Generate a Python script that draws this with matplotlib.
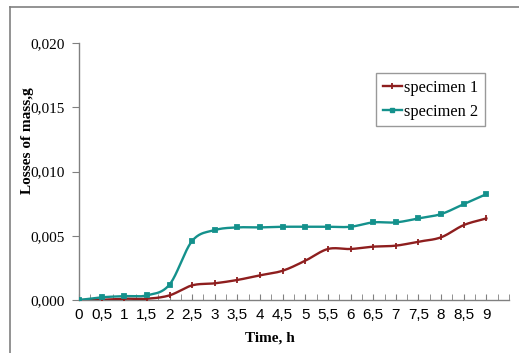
import numpy as np
import matplotlib
matplotlib.use("Agg")
import matplotlib.pyplot as plt
from matplotlib.lines import Line2D
from matplotlib.ticker import FixedLocator, MultipleLocator

# Sampling times (h) and mass losses (g)
time_h = [0, 0.5, 1, 1.5, 2, 2.5, 3, 3.5, 4, 4.5, 5, 5.5, 6, 6.5, 7, 7.5, 8, 8.5, 9]
specimen_1 = [0.0, 0.00002, 0.0001, 0.0001, 0.00036, 0.00114, 0.0013, 0.00156,
              0.00192, 0.00228, 0.00306, 0.00397, 0.00397, 0.00415, 0.00423,
              0.00454, 0.00488, 0.00583, 0.00635]
specimen_2 = [0.0, 0.00021, 0.0003, 0.00036, 0.0012, 0.0046, 0.00544, 0.00565,
              0.00565, 0.0057, 0.0057, 0.0057, 0.0057, 0.00604, 0.00604,
              0.00635, 0.00669, 0.00746, 0.00824]
x_tick_labels = ["0", "0,5", "1", "1,5", "2", "2,5", "3", "3,5", "4", "4,5", "5",
                 "5,5", "6", "6,5", "7", "7,5", "8", "8,5", "9"]
y_ticks = [0.0, 0.005, 0.010, 0.015, 0.020]
y_tick_labels = ["0,000", "0,005", "0,010", "0,015", "0,020"]


def catmull_rom(x, y, n=20):
    """Smooth curve passing through every (x, y) point."""
    x = np.asarray(x, float)
    y = np.asarray(y, float)
    px = np.concatenate([[2 * x[0] - x[1]], x, [2 * x[-1] - x[-2]]])
    py = np.concatenate([[2 * y[0] - y[1]], y, [2 * y[-1] - y[-2]]])
    t = np.linspace(0, 1, n, endpoint=False)[:, None]
    xs, ys = [], []
    for i in range(1, len(px) - 2):
        for p, out in ((px, xs), (py, ys)):
            p0, p1, p2, p3 = p[i - 1], p[i], p[i + 1], p[i + 2]
            seg = 0.5 * ((2 * p1) + (-p0 + p2) * t
                         + (2 * p0 - 5 * p1 + 4 * p2 - p3) * t ** 2
                         + (-p0 + 3 * p1 - 3 * p2 + p3) * t ** 3)
            out.append(seg.ravel())
    xs.append([x[-1]])
    ys.append([y[-1]])
    return np.concatenate(xs), np.concatenate(ys)


W, H = 519, 353
fig = plt.figure(figsize=(W / 100, H / 100), dpi=100)
ax = fig.add_axes([79 / W, (H - 300) / H, 430 / W, 257 / H])

red = "#8E1E1E"
teal = "#14918C"

for vals, color, marker, ms, label in (
        (specimen_1, red, "|", 5, "specimen 1"),
        (specimen_2, teal, "s", 3.5, "specimen 2")):
    sx, sy = catmull_rom(time_h, vals)
    ax.plot(sx, sy, color=color, lw=1.7, zorder=3)
    ax.plot(time_h, vals, ls="none", marker=marker, ms=ms, color=color,
            mec=color, mew=1.3, zorder=4)

ax.set_xlim(0, 9.5)
ax.set_ylim(0, 0.020)

ax.xaxis.set_major_locator(FixedLocator(time_h))
ax.set_xticklabels(x_tick_labels, family="Liberation Sans", fontsize=11)
ax.xaxis.set_minor_locator(MultipleLocator(0.25))
ax.tick_params(axis="x", which="both", direction="in", length=4,
               color="#808080", pad=6)

ax.set_yticks(y_ticks)
ax.set_yticklabels(y_tick_labels, family="Liberation Serif", fontsize=11)
ax.tick_params(axis="y", direction="out", length=5, color="#808080", pad=5)

for side in ("top", "right"):
    ax.spines[side].set_visible(False)
for side in ("left", "bottom"):
    ax.spines[side].set_color("#808080")
    ax.spines[side].set_linewidth(1.0)

fig.text(27 / W, 1 - 141 / H, "Losses of mass,g", rotation=90, ha="center",
         va="center", family="Liberation Serif", fontweight="bold", fontsize=11)
fig.text(270 / W, 1 - 338 / H, "Time, h", ha="center", va="center",
         family="Liberation Serif", fontweight="bold", fontsize=11)

handles = [Line2D([], [], color=red, lw=1.7, marker="|", ms=5, mew=1.3),
           Line2D([], [], color=teal, lw=1.7, marker="s", ms=3.5)]
leg = fig.legend(handles, ["specimen 1", "specimen 2"],
                 loc="upper left", bbox_to_anchor=(376 / W, 1 - 73 / H),
                 prop={"family": "Liberation Serif", "size": 11.8},
                 frameon=True, fancybox=False, handlelength=1.2,
                 handletextpad=0.1, labelspacing=0.5, borderpad=0.4,
                 borderaxespad=0)
leg.get_frame().set_edgecolor("#808080")
leg.get_frame().set_linewidth(1.0)

# outer chart frame (left and top edges)
fig.add_artist(Line2D([10 / W, 10 / W], [0, 1 - 7 / H], transform=fig.transFigure,
                      color="#808080", lw=1.2))
fig.add_artist(Line2D([10 / W, 1], [1 - 7 / H, 1 - 7 / H], transform=fig.transFigure,
                      color="#808080", lw=1.2))

fig.savefig("out.png", dpi=100)
